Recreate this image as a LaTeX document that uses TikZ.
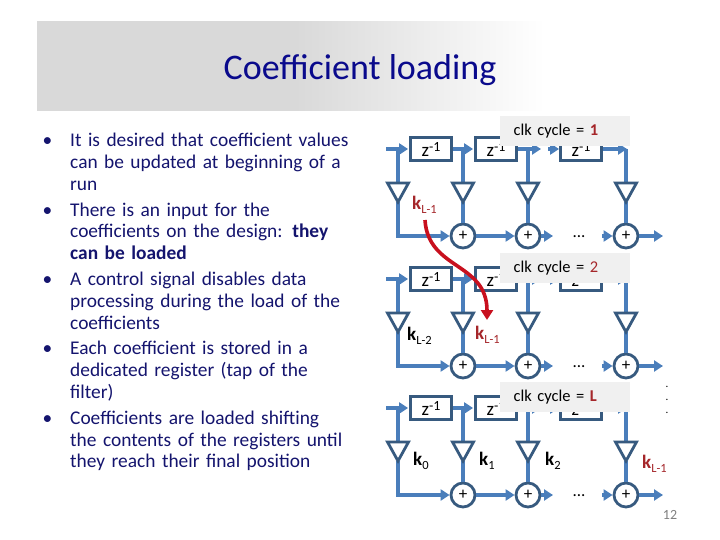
\documentclass[tikz,border=0pt]{standalone}
\usepackage{fontspec}
\setmainfont{Carlito}
\usetikzlibrary{arrows.meta,calc}
\definecolor{sigblue}{HTML}{4A7EBB}
\definecolor{boxblue}{HTML}{375A7F}
\definecolor{kred}{HTML}{A5262A}
\definecolor{arrred}{HTML}{C8101E}
\definecolor{navy}{HTML}{0A0A8C}
\definecolor{bodynavy}{HTML}{14146E}
\definecolor{titlegray}{HTML}{D9D9D9}
\tikzset{
 x=1pt,y=-1pt,
 sig/.style={draw=sigblue,line width=3.2pt,-{Triangle[length=9pt,width=11pt]}},
 wire/.style={draw=sigblue,line width=3.2pt},
 delay/.style={draw=boxblue,line width=2.8pt,fill=white,minimum width=41pt,minimum height=23pt,inner sep=0pt,font=\fontsize{19}{19}\selectfont},
 adder/.style={draw=boxblue,line width=2.8pt,fill=white,circle,minimum size=24pt,inner sep=0pt,font=\fontsize{17}{17}\selectfont},
 graybox/.style={fill=black!6,minimum width=130pt,minimum height=30pt,inner sep=0pt,anchor=north west,text width=121pt,align=left,font=\fontsize{16.5}{18}\selectfont},
 coef/.style={inner sep=0pt,anchor=base west,font=\fontsize{19}{19}\selectfont\bfseries},
 body/.style={inner sep=0pt,anchor=north west,text width=320pt,align=left,text=bodynavy,font=\fontsize{19.4}{21.8}\selectfont},
 tri/.style={draw=boxblue,line width=2.8pt,fill=white,line join=miter}
}
\newcommand{\kk}[1]{k\raisebox{-4pt}{\fontsize{12.5}{12.5}\selectfont\mdseries #1}}
\newcommand{\zinv}{z\raisebox{5pt}{\fontsize{14}{14}\selectfont -1}}
\newcommand{\bul}{\makebox[0pt][r]{•\hspace{18pt}}}
\newcommand{\row}[2]{% #1 name prefix, #2 z centre y
 \coordinate (#1in) at (386,#2);
 \coordinate (#1j0) at (398,#2);
 \coordinate (#1j1) at (463,#2);
 \coordinate (#1j2) at (528,#2);
 \coordinate (#1j3) at (626,#2);
 \coordinate (#1t0) at (398,#2+34);
 \coordinate (#1t1) at (463,#2+34);
 \coordinate (#1t2) at (528,#2+34);
 \coordinate (#1t3) at (626,#2+34);
 \coordinate (#1b0) at (398,#2+53);
 \coordinate (#1b1) at (463,#2+53);
 \coordinate (#1b2) at (528,#2+53);
 \coordinate (#1b3) at (626,#2+53);
 \node[delay] (#1z0) at (431,#2) {\zinv};
 \node[delay] (#1z1) at (496,#2) {\zinv};
 \node[delay] (#1z2) at (581,#2) {\zinv};
 \node[adder] (#1a1) at (463,#2+87) {+};
 \node[adder] (#1a2) at (528,#2+87) {+};
 \node[adder] (#1a3) at (626,#2+87) {+};
 \node[font=\fontsize{17}{17}\selectfont,inner sep=0pt] (#1dots) at (579,#2+88) {...};
 \coordinate (#1o2) at (553,#2+87);
 \coordinate (#1i3) at (602,#2+87);
 \coordinate (#1i2) at (548,#2);
 \coordinate (#1e2) at (541,#2);
 \coordinate (#1o3) at (663,#2+87);
 \draw[sig] (#1in) -- ($(#1z0.west)+(-1,0)$);
 \draw[sig] (#1z0) -- ($(#1z1.west)+(-1,0)$);
 \draw[sig] (#1z1) -- (#1e2);
 \draw[sig] (#1i2) -- (#1z2);
 \draw[sig] (#1z2) -- ($(#1j3)+(1,0)$);
 \draw[wire] (#1j0) -- (#1t0);
 \draw[wire] (#1j1) -- (#1t1);
 \draw[wire] (#1j2) -- (#1t2);
 \draw[wire] (#1j3) -- (#1t3);
 \draw[wire] (#1b1) -- (#1a1);
 \draw[wire] (#1b2) -- (#1a2);
 \draw[wire] (#1b3) -- (#1a3);
 \draw[sig] (#1b0) |- (#1a1);
 \draw[sig] (#1a1) -- (#1a2);
 \draw[sig] (#1a2) -- (#1o2);
 \draw[sig] (#1i3) -- (#1a3);
 \draw[sig] (#1a3) -- (#1o3);
 \draw[tri] ($(#1t0)+(-10.5,0)$) -- ($(#1t0)+(10.5,0)$) -- (#1b0) -- cycle;
 \draw[tri] ($(#1t1)+(-10.5,0)$) -- ($(#1t1)+(10.5,0)$) -- (#1b1) -- cycle;
 \draw[tri] ($(#1t2)+(-10.5,0)$) -- ($(#1t2)+(10.5,0)$) -- (#1b2) -- cycle;
 \draw[tri] ($(#1t3)+(-10.5,0)$) -- ($(#1t3)+(10.5,0)$) -- (#1b3) -- cycle;
}
\begin{document}
\begin{tikzpicture}
\useasboundingbox (0,0) rectangle (720,540);
\fill[white] (0,0) rectangle (720,540);
\shade[left color=titlegray,right color=titlegray] (37,22) rectangle (296,111);
\shade[left color=titlegray,right color=white] (295,22) rectangle (545,111);
\node[inner sep=0pt,anchor=base,text=navy,font=\fontsize{36}{36}\selectfont] (title) at (360,80) {Coefficient loading};
\node[body] (bl) at (70,133) {%
\bul It is desired that coefficient values\\
can be updated at beginning of a\\
run\\[4pt]
\bul There is an input for the\\
coefficients on the design: \textbf{they}\\
\textbf{can be loaded}\\[4pt]
\bul A control signal disables data\\
processing during the load of the\\
coefficients\\[4pt]
\bul Each coefficient is stored in a\\
dedicated register (tap of the\\
filter)\\[4pt]
\bul Coefficients are loaded shifting\\
the contents of the registers until\\
they reach their final position};
\row{a}{149}
\row{b}{279}
\row{c}{408}
\node[graybox] (g1) at (500,116) {\hspace*{9pt}clk cycle = \textcolor{kred}{\textbf{1}}};
\node[graybox] (g2) at (500,253) {\hspace*{9pt}clk cycle = \textcolor{kred}{2}};
\node[graybox] (g3) at (500,382) {\hspace*{9pt}clk cycle = \textcolor{kred}{\textbf{L}}};
\node[coef,text=kred] (k1) at (412,210) {\kk{L-1}};
\node[coef] (k2) at (407,340) {\kk{L-2}};
\node[coef,text=kred] (k3) at (475,339) {\kk{L-1}};
\node[coef] (k4) at (413,465) {\kk{0}};
\node[coef] (k5) at (479,465) {\kk{1}};
\node[coef] (k6) at (545,465) {\kk{2}};
\node[coef,text=kred] (k7) at (642,468) {\kk{L-1}};
\coordinate (rs) at (425,220);
\coordinate (re) at (487,320);
\draw[draw=arrred,line width=3.6pt,-{Triangle[length=10pt,width=12pt]}] (rs) .. controls (428,270) and (487,262) .. (re);
\node[inner sep=0pt,font=\fontsize{14}{14}\selectfont,text=black!50] (pn) at (670,515) {12};
\node[inner sep=0pt,font=\fontsize{11}{13}\selectfont,align=center] (vd) at (667,400) {.\\.\\.};
\end{tikzpicture}
\end{document}
